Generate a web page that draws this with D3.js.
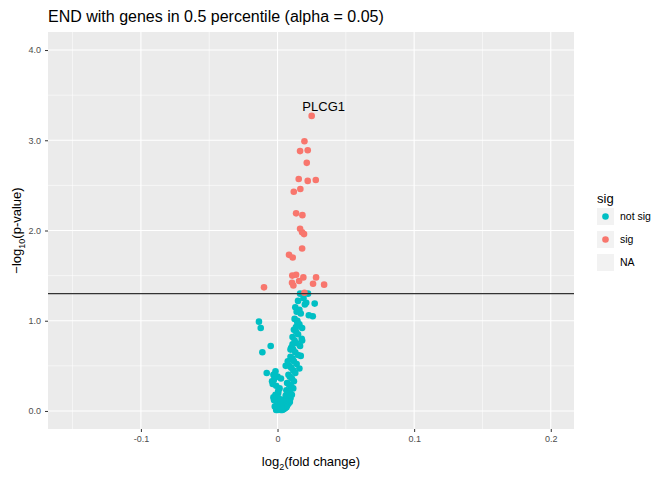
<!DOCTYPE html>
<html><head><meta charset="utf-8">
<script src="https://cdn.jsdelivr.net/npm/d3@7"></script>
<style>body{margin:0;background:#fff;font-family:"Liberation Sans",Arial,sans-serif}</style>
</head><body><div id="chart"></div>
<script>
// significant genes [log2FC, -log10 p]
var sigX = [0.0250,0.0197,0.0165,0.0221,0.0214,0.0155,0.0221,0.0280,0.0119,0.0167,0.0136,0.0182,0.0165,0.0180,0.0194,0.0180,0.0084,0.0111,0.0108,0.0136,0.0189,0.0158,0.0106,0.0116,0.0282,0.0260,0.0341,-0.0099,0.0197];
var sigY = [3.27,2.99,2.88,2.89,2.75,2.57,2.55,2.56,2.43,2.46,2.19,2.17,2.02,1.98,1.96,1.80,1.73,1.70,1.50,1.51,1.48,1.44,1.42,1.39,1.48,1.41,1.40,1.37,1.31];
// not significant genes
var nsX = [-0.0136,-0.0123,-0.0050,-0.0111,-0.0079,0.0057,0.0272,0.0258,0.0229,0.0177,0.0180,0.0160,0.0170,0.0165,0.0223,0.0190,0.0200,0.0150,0.0130,0.0140,0.0170,0.0210,0.0125,0.0145,0.0160,0.0180,0.0120,0.0135,0.0150,0.0110,0.0125,0.0140,0.0165,0.0100,0.0115,0.0130,0.0150,0.0095,0.0110,0.0120,0.0140,0.0085,0.0100,0.0115,0.0130,0.0080,0.0090,0.0105,0.0120,0.0070,0.0085,0.0100,0.0115,0.0065,0.0075,0.0090,0.0105,0.0060,0.0070,0.0080,0.0095,0.0050,0.0060,0.0075,0.0090,0.0045,0.0055,0.0065,0.0080,0.0040,0.0050,0.0060,0.0070,0.0030,0.0040,0.0050,0.0065,0.0020,0.0030,0.0045,0.0055,0.0010,0.0020,0.0035,0.0045,0.0000,0.0010,0.0025,0.0035,-0.0010,0.0000,0.0015,0.0030,-0.0020,-0.0005,0.0010,0.0020,-0.0030,-0.0015,0.0005,0.0015,-0.0035,-0.0025,-0.0010,0.0005,-0.0040,-0.0030,-0.0015,0.0000,-0.0005,0.0010,-0.0025,0.0025,0.0075,0.0095,0.0060,0.0145,0.0160,0.0135,0.0110];
var nsY = [0.99,0.92,0.72,0.65,0.42,0.04,1.19,1.05,1.06,0.80,0.78,0.47,0.61,1.30,1.30,1.25,1.18,1.22,1.15,1.10,1.08,1.20,1.02,1.00,0.96,0.92,0.90,0.88,0.85,0.82,0.78,0.75,0.72,0.70,0.68,0.65,0.62,0.60,0.58,0.55,0.52,0.50,0.48,0.45,0.42,0.40,0.38,0.36,0.33,0.31,0.29,0.27,0.25,0.23,0.21,0.20,0.18,0.17,0.16,0.15,0.14,0.13,0.12,0.11,0.10,0.10,0.09,0.08,0.08,0.07,0.07,0.06,0.06,0.05,0.05,0.05,0.04,0.04,0.04,0.03,0.03,0.03,0.03,0.02,0.02,0.02,0.02,0.01,0.01,0.01,0.01,0.02,0.03,0.05,0.07,0.09,0.12,0.15,0.18,0.20,0.25,0.30,0.35,0.28,0.22,0.33,0.40,0.44,0.38,0.06,0.14,0.12,0.36,0.55,0.68,0.50,0.98,1.12,0.93,0.74];
var xTicks = [-0.1, 0, 0.1, 0.2];
var yTicks = [0, 1, 2, 3, 4];
var threshold = 1.3;

var svg = d3.select("#chart").append("svg").attr("width", 672).attr("height", 480);
var margin = {left: 48, top: 32, right: 574, bottom: 429};
var x = d3.scaleLinear().domain([-0.168, 0.217]).range([margin.left, margin.right]);
var y = d3.scaleLinear().domain([-0.2, 4.2]).range([margin.bottom, margin.top]);

svg.append("rect").attr("x", margin.left).attr("y", margin.top)
  .attr("width", margin.right - margin.left).attr("height", margin.bottom - margin.top).attr("fill", "#ebebeb");

// minor grid
[-0.15, -0.05, 0.05, 0.15].forEach(function(v) {
  svg.append("line").attr("x1", x(v)).attr("x2", x(v)).attr("y1", margin.top).attr("y2", margin.bottom)
    .attr("stroke", "#fff").attr("stroke-width", 0.55);
});
[0.5, 1.5, 2.5, 3.5].forEach(function(v) {
  svg.append("line").attr("y1", y(v)).attr("y2", y(v)).attr("x1", margin.left).attr("x2", margin.right)
    .attr("stroke", "#fff").attr("stroke-width", 0.55);
});
// major grid
xTicks.forEach(function(v) {
  svg.append("line").attr("x1", x(v)).attr("x2", x(v)).attr("y1", margin.top).attr("y2", margin.bottom)
    .attr("stroke", "#fff").attr("stroke-width", 1.1);
});
yTicks.forEach(function(v) {
  svg.append("line").attr("y1", y(v)).attr("y2", y(v)).attr("x1", margin.left).attr("x2", margin.right)
    .attr("stroke", "#fff").attr("stroke-width", 1.1);
});

// axes
var xAxis = svg.append("g").attr("transform", "translate(0," + margin.bottom + ")")
  .call(d3.axisBottom(x).tickValues(xTicks).tickFormat(function(d) { return d === 0 ? "0" : d; }).tickSize(3).tickPadding(4));
var yAxis = svg.append("g").attr("transform", "translate(" + margin.left + ",0)")
  .call(d3.axisLeft(y).tickValues(yTicks).tickSize(3).tickPadding(4));
[xAxis, yAxis].forEach(function(a) {
  a.select(".domain").remove();
  a.selectAll("line").attr("stroke", "#333");
  a.selectAll("text").attr("fill", "#4d4d4d").attr("font-size", 9).attr("font-family", "Liberation Sans, Arial, sans-serif");
});

// points
var ns = nsX.map(function(v, i) { return [v, nsY[i]]; });
var sg = sigX.map(function(v, i) { return [v, sigY[i]]; });
svg.append("g").selectAll("circle").data(ns).enter().append("circle")
  .attr("cx", d => x(d[0])).attr("cy", d => y(d[1])).attr("r", 3.3).attr("fill", "#00BFC4");
svg.append("g").selectAll("circle").data(sg).enter().append("circle")
  .attr("cx", d => x(d[0])).attr("cy", d => y(d[1])).attr("r", 3.3).attr("fill", "#F8766D");

svg.append("line").attr("x1", margin.left).attr("x2", margin.right).attr("y1", y(threshold)).attr("y2", y(threshold))
  .attr("stroke", "#333").attr("stroke-width", 1.2);

svg.append("text").attr("x", x(sigX[0]) + 12).attr("y", y(sigY[0]) - 5).attr("text-anchor", "middle")
  .attr("font-size", 13).text("PLCG1");

// title and labels
svg.append("text").attr("x", margin.left).attr("y", 22).attr("font-size", 16).text("END with genes in 0.5 percentile (alpha = 0.05)");
var xl = svg.append("text").attr("x", (margin.left + margin.right) / 2).attr("y", 466).attr("text-anchor", "middle").attr("font-size", 13);
xl.append("tspan").text("log");
xl.append("tspan").attr("font-size", 9).attr("dy", 4).text("2");
xl.append("tspan").attr("dy", -4).text("(fold change)");
var yl = svg.append("text").attr("transform", "translate(21," + ((margin.top + margin.bottom) / 2) + ") rotate(-90)")
  .attr("text-anchor", "middle").attr("font-size", 13);
yl.append("tspan").text("\u2212log");
yl.append("tspan").attr("font-size", 9).attr("dy", 4).text("10");
yl.append("tspan").attr("dy", -4).text("(p-value)");

// legend
var lg = svg.append("g").attr("transform", "translate(597,0)");
lg.append("text").attr("x", 0).attr("y", 203).attr("font-size", 13).text("sig");
var keys = [["not sig", "#00BFC4"], ["sig", "#F8766D"], ["NA", null]];
keys.forEach(function(k, i) {
  var yy = 208 + i * 23;
  lg.append("rect").attr("x", 0).attr("y", yy).attr("width", 17).attr("height", 17).attr("fill", "#f2f2f2");
  if (k[1]) lg.append("circle").attr("cx", 8.5).attr("cy", yy + 8.5).attr("r", 3.3).attr("fill", k[1]);
  lg.append("text").attr("x", 23).attr("y", yy + 12).attr("font-size", 10.5).text(k[0]);
});
</script></body></html>
